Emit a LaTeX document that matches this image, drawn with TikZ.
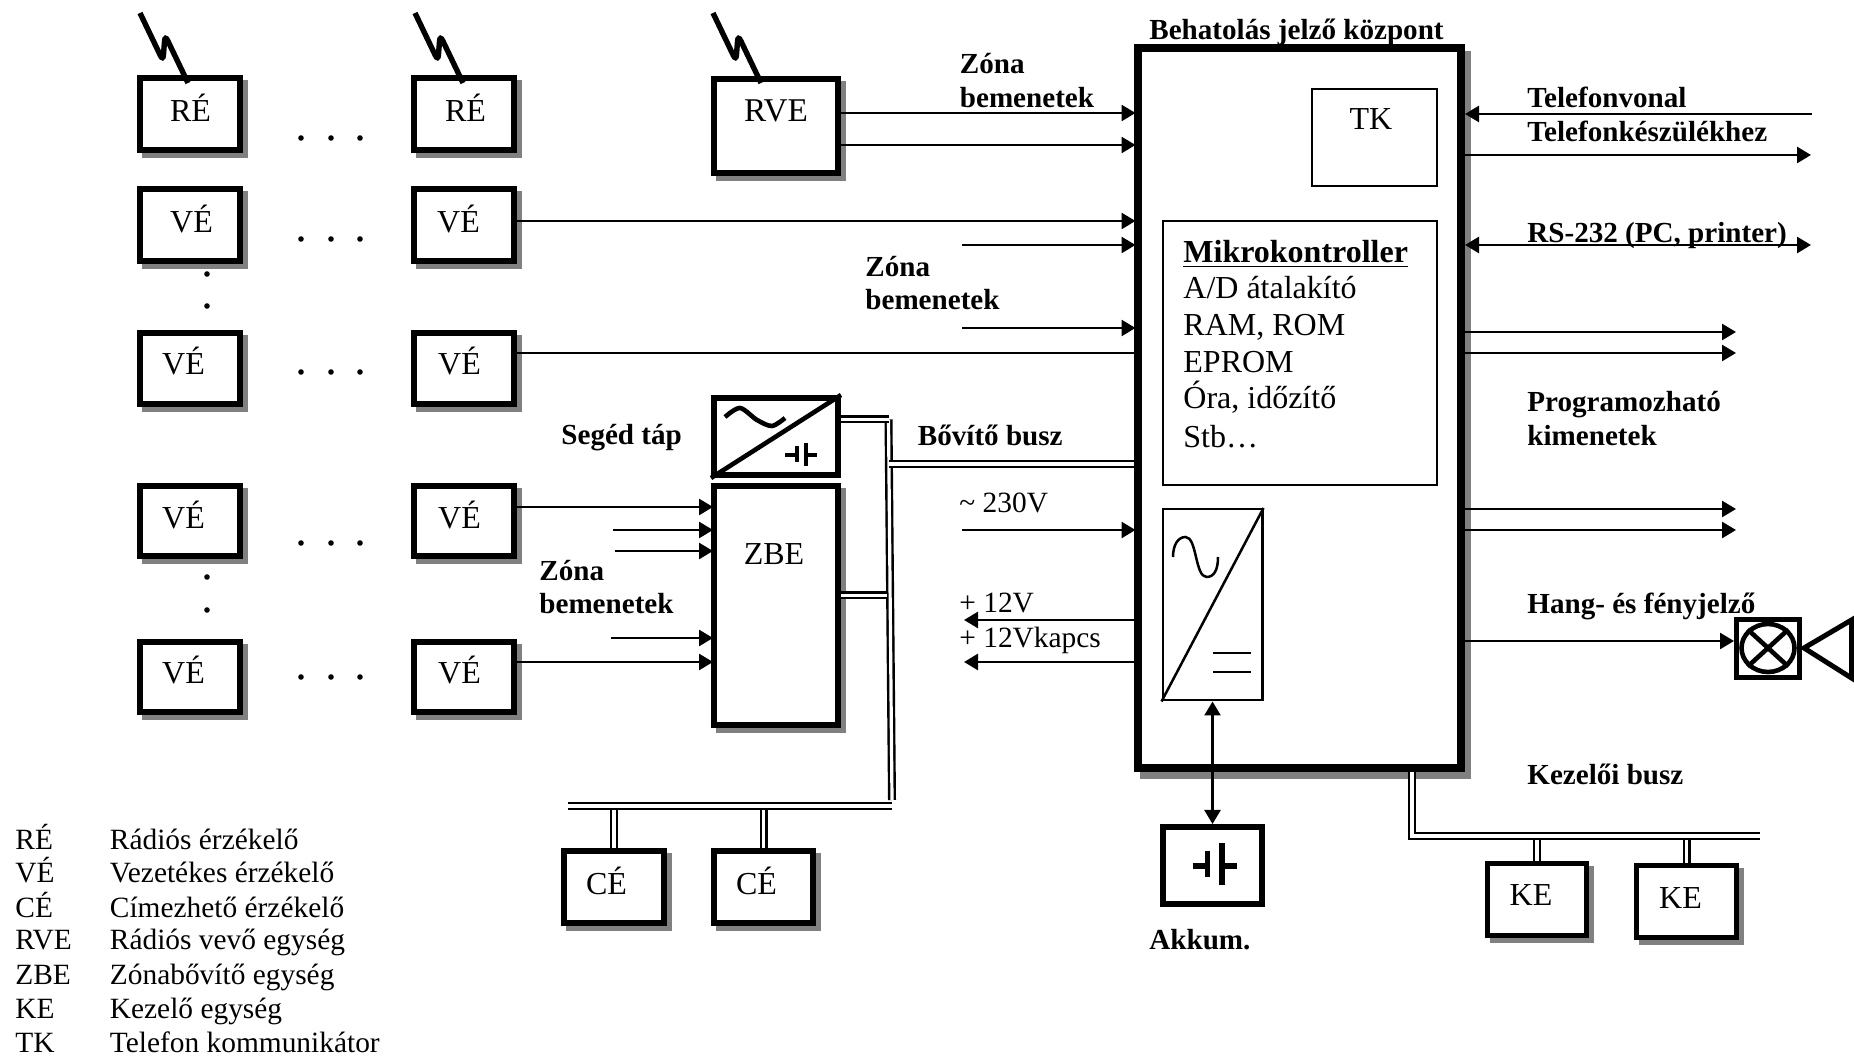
\documentclass[tikz,border=0pt]{standalone}
\usepackage{fontspec}
\setmainfont{Liberation Serif}
\usetikzlibrary{arrows.meta,shapes.geometric}
\newcommand{\bx}[7][6]{\node[#2,line width=#1*0.5pt,minimum width={(#5-#3-#1)*0.5pt},minimum height={(#6-#4-#1)*0.5pt}] (#7) at ({(#3+#5)/2},{(#4+#6)/2}) {};}
\definecolor{sgray}{gray}{0.5}
\tikzset{
  frame/.style={draw=black,fill=white,rectangle,inner sep=0pt},
  shadowed/.style={frame,preaction={draw=sgray,fill=sgray,transform canvas={xshift=2.6pt,yshift=-2.6pt}}},
  shadowedbig/.style={frame,preaction={draw=sgray,fill=sgray,transform canvas={xshift=3pt,yshift=-3.5pt}}},
  arr/.style={line width=1.3pt,->,shorten >=-1pt},
  wire/.style={line width=1.3pt},
  bus/.style={draw=black,line width=1.2pt,double=white,double distance=1.6pt},
  zap/.style={line width=2.7pt,rounded corners=3pt},
  sym/.style={line width=2.3pt},
  thinsym/.style={line width=1.25pt},
  big/.style={inner sep=0pt,anchor=base,font=\fontsize{16}{18}\selectfont},
  bigl/.style={inner sep=0pt,anchor=base west,font=\fontsize{16}{18}\selectfont},
  small/.style={inner sep=0pt,anchor=base west,font=\fontsize{14.7}{17}\selectfont},
  bold/.style={inner sep=0pt,anchor=base west,font=\fontsize{14.55}{17}\selectfont\bfseries},
  >={Triangle[length=7pt,width=8pt]}
}
\begin{document}
\begin{tikzpicture}[x=0.5pt,y=-0.5pt]
\useasboundingbox (0,0) rectangle (1854,1058);
% sensor boxes
\bx{shadowed}{137}{75}{243}{153}{re1}
\bx{shadowed}{411}{75}{517}{153}{re2}
\bx{shadowed}{137}{186}{243}{264}{ve1}
\bx{shadowed}{411}{186}{517}{264}{ve2}
\bx{shadowed}{137}{330}{243}{407}{ve3}
\bx{shadowed}{411}{330}{517}{407}{ve4}
\bx{shadowed}{137}{483}{243}{559}{ve5}
\bx{shadowed}{411}{483}{517}{559}{ve6}
\bx{shadowed}{137}{639}{243}{715}{ve7}
\bx{shadowed}{411}{639}{517}{715}{ve8}
\bx{shadowed}{711}{76}{841}{176}{rve}
\bx{shadowed}{711}{483}{841}{728}{zbe}
\bx{frame}{711}{395}{841}{478}{seged}
\bx{shadowed}{561}{848}{667}{926}{ce1}
\bx{shadowed}{711}{848}{816}{926}{ce2}
\bx[5]{shadowed}{1485}{861}{1589}{938}{ke1}
\bx[5]{shadowed}{1634}{863}{1739}{940}{ke2}
\bx[8]{shadowedbig}{1133.5}{44}{1465}{772}{main}
\bx[2]{frame}{1311}{88.5}{1438}{187}{tk}
\bx[2]{frame}{1161.5}{220.5}{1438}{486.5}{micro}
\bx[2.4]{frame}{1161.5}{508}{1263.5}{701.5}{pwr}
\bx[6]{frame}{1160}{824}{1265}{907}{akk}
\bx[5]{frame}{1734}{617}{1802}{680}{lamp}
% box labels
\node[big] (tre1) at (190.5,122) {RÉ};
\node[big] (tre2) at (465.5,122) {RÉ};
\node[big] (tve1) at (191.5,233) {VÉ};
\node[big] (tve2) at (458.5,233) {VÉ};
\node[big] (tve3) at (183.5,375) {VÉ};
\node[big] (tve4) at (459.5,375) {VÉ};
\node[big] (tve5) at (183.5,529) {VÉ};
\node[big] (tve6) at (459.5,529) {VÉ};
\node[big] (tve7) at (183.5,684) {VÉ};
\node[big] (tve8) at (459.5,684) {VÉ};
\node[big,font=\fontsize{16.6}{19}\selectfont] (trve) at (776,122) {RVE};
\node[big] (tzbe) at (774,565) {ZBE};
\node[big] (tce1) at (606.5,894) {CÉ};
\node[big] (tce2) at (756.5,894) {CÉ};
\node[big] (tke1) at (1531,906) {KE};
\node[big] (tke2) at (1680.5,908) {KE};
\node[big] (ttk) at (1371,130) {TK};
% antennas
\foreach \dx in {0,275,573}{
  \draw[zap,xshift=\dx*0.5pt] (140,13) -- (163,61) -- (165,35) -- (188,83);
}
% dots
\foreach \yy in {138,239,372,543,677}{
  \foreach \xx in {301,331,360}{\fill (\xx,\yy) circle (1.4pt);}
}
\foreach \yy in {274,306,577,610}{\fill (207,\yy) circle (1.4pt);}
% lines to main
\coordinate (za) at (962,245);
\coordinate (zb) at (962,328);
\coordinate (ac) at (962,530);
\coordinate (v12) at (964,620);
\coordinate (vk) at (964,662);
\draw[arr] (rve.east |- 0,113) -- (main.west |- 0,113);
\draw[arr] (rve.east |- 0,145) -- (main.west |- 0,145);
\draw[arr] (ve2.east |- 0,221) -- (main.west |- 0,221);
\draw[arr] (za) -- (main.west |- za);
\draw[arr] (zb) -- (main.west |- zb);
\draw[wire] (ve4.east |- 0,353) -- (main.west |- 0,353);
\draw[arr] (ac) -- (main.west |- ac);
\draw[arr,shorten >=0pt] (main.west |- v12) -- (v12);
\draw[arr,shorten >=0pt] (main.west |- vk) -- (vk);
% right side
\coordinate (tel) at (1812,114);
\coordinate (tkk) at (1811,155);
\coordinate (rs) at (1811,245);
\coordinate (p1) at (1736,332);
\coordinate (p2) at (1736,353);
\coordinate (p3) at (1736,509);
\coordinate (p4) at (1736,530);
\draw[arr,shorten >=0pt] (tel) -- (main.east |- tel);
\draw[arr,shorten >=0pt] (main.east |- tkk) -- (tkk);
\draw[arr,<->,shorten >=0pt] (main.east |- rs) -- (rs);
\draw[arr,shorten >=0pt] (main.east |- p1) -- (p1);
\draw[arr,shorten >=0pt] (main.east |- p2) -- (p2);
\draw[arr,shorten >=0pt] (main.east |- p3) -- (p3);
\draw[arr,shorten >=0pt] (main.east |- p4) -- (p4);
\draw[arr,shorten >=0pt] (main.east |- 0,641) -- (lamp.west |- 0,641);
\draw[arr,<->,shorten >=0pt] (pwr.south) -- (akk.north);
% into ZBE
\coordinate (zc) at (613,530);
\coordinate (zd) at (615,551);
\coordinate (ze) at (611,638);
\draw[arr] (ve6.east |- 0,507) -- (zbe.west |- 0,507);
\draw[arr] (zc) -- (zbe.west |- zc);
\draw[arr] (zd) -- (zbe.west |- zd);
\draw[arr] (ze) -- (zbe.west |- ze);
\draw[arr] (ve8.east |- 0,662) -- (zbe.west |- 0,662);
% buses
\coordinate (b1) at (888.5,419.5);
\coordinate (b2) at (892,800);
\coordinate (b3) at (568,806);
\coordinate (b4) at (892,806);
\coordinate (b5) at (889,464);
\coordinate (b6) at (887,595.5);
\coordinate (k1) at (1412,836);
\coordinate (k2) at (1760,836);
\draw[bus] (b1) -- (b2);
\draw[bus] (seged.east |- b1) -- (b1);
\draw[bus] (zbe.east |- b6) -- (b6);
\draw[bus] (b5) -- (main.west |- b5);
\draw[bus] (ce1.north) -- (ce1.north |- b3);
\draw[bus] (ce2.north) -- (ce2.north |- b3);
\draw[bus] (b3) -- (b4);
\draw[bus] (ke1.north) -- (ke1.north |- k1);
\draw[bus] (ke2.north) -- (ke2.north |- k1);
\draw[bus] (main.south -| k1) -- (k1) -- (k2);
% converter symbols
\draw[thinsym] (pwr.north east) -- (pwr.south west);
\draw[thinsym] (1173,557) .. controls (1173,545) and (1178,537) .. (1185.5,537) .. controls (1197,537) and (1195,577) .. (1206.6,577) .. controls (1214,577) and (1218,570) .. (1218,557);
\draw[thinsym] (1213,653) -- (1251,653);
\draw[thinsym] (1213,672) -- (1251,672);
\draw[sym] (seged.north east) -- (seged.south west);
\draw[sym] plot[smooth] coordinates {(725,417) (740,408) (757,420) (772,426) (785,418)};
\draw[sym] (797,446) -- (797,462);
\draw[sym] (806,443) -- (806,466);
\draw[sym] (785,455) -- (797,455);
\draw[sym] (806,455) -- (817,455);
% accumulator symbol
\draw[line width=2.6pt] (1207.5,851) -- (1207.5,877);
\draw[line width=2.6pt] (1222,843) -- (1222,885);
\draw[line width=2.6pt] (1192.5,866) -- (1207.5,866);
\draw[line width=2.6pt] (1222,866) -- (1237,866);
% lamp and horn
\node[ellipse,draw,line width=2.3pt,minimum width=26.5pt,minimum height=24pt,inner sep=0pt] (bulb) at (1768,648) {};
\draw[line width=2.3pt] (bulb.north west) -- (bulb.south east);
\draw[line width=2.3pt] (bulb.north east) -- (bulb.south west);
\draw[line width=2.5pt,line join=miter] (1804,648) -- (1851.5,620) -- (1851.5,678) -- cycle;
% texts
\node[bold] (tcentral) at (1149,40) {Behatolás jelző központ};
\node[bold] (tz1a) at (959.5,74) {Zóna};
\node[bold] (tz1b) at (959.5,108) {bemenetek};
\node[bold] (tz2a) at (865,277) {Zóna};
\node[bold] (tz2b) at (865,310) {bemenetek};
\node[bold] (tz3a) at (539,581) {Zóna};
\node[bold] (tz3b) at (539,614) {bemenetek};
\node[bold] (tseg) at (561,445) {Segéd táp};
\node[bold] (tbov) at (917.5,445.5) {Bővítő busz};
\node[small] (t230) at (959,513) {\char"007E\ 230V};
\node[small] (t12) at (959,613) {+ 12V};
\node[small] (t12k) at (959,648) {+ 12Vkapcs};
\node[bold] (ttel) at (1527,108) {Telefonvonal};
\node[bold] (ttkk) at (1527,142) {Telefonkészülékhez};
\node[bold] (trs) at (1527,243) {RS-232 (PC, printer)};
\node[bold] (tpro) at (1527,412) {Programozható};
\node[bold] (tkim) at (1527,446) {kimenetek};
\node[bold] (thang) at (1527,614) {Hang- és fényjelző};
\node[bold] (tkez) at (1527,784) {Kezelői busz};
\node[bold] (takk) at (1149,950) {Akkum.};
\node[bigl] (m1) at (1183,263) {\textbf{\underline{Mikrokontroller}}};
\node[bigl] (m2) at (1183,299) {A/D átalakító};
\node[bigl] (m3) at (1183,336) {RAM, ROM};
\node[bigl] (m4) at (1183,372.5) {EPROM};
\node[bigl] (m5) at (1183,409) {Óra, időzítő};
\node[bigl] (m6) at (1183,448) {Stb…};
% legend
\node[small] (l1a) at (15,849) {RÉ};
\node[small] (l1b) at (109.5,849) {Rádiós érzékelő};
\node[small] (l2a) at (15,883) {VÉ};
\node[small] (l2b) at (109.5,883) {Vezetékes érzékelő};
\node[small] (l3a) at (15,917) {CÉ};
\node[small] (l3b) at (109.5,917) {Címezhető érzékelő};
\node[small] (l4a) at (15,950) {RVE};
\node[small] (l4b) at (109.5,950) {Rádiós vevő egység};
\node[small] (l5a) at (15,984) {ZBE};
\node[small] (l5b) at (109.5,984) {Zónabővítő egység};
\node[small] (l6a) at (15,1018) {KE};
\node[small] (l6b) at (109.5,1018) {Kezelő egység};
\node[small] (l7a) at (15,1052) {TK};
\node[small] (l7b) at (109.5,1052) {Telefon kommunikátor};
\end{tikzpicture}
\end{document}
